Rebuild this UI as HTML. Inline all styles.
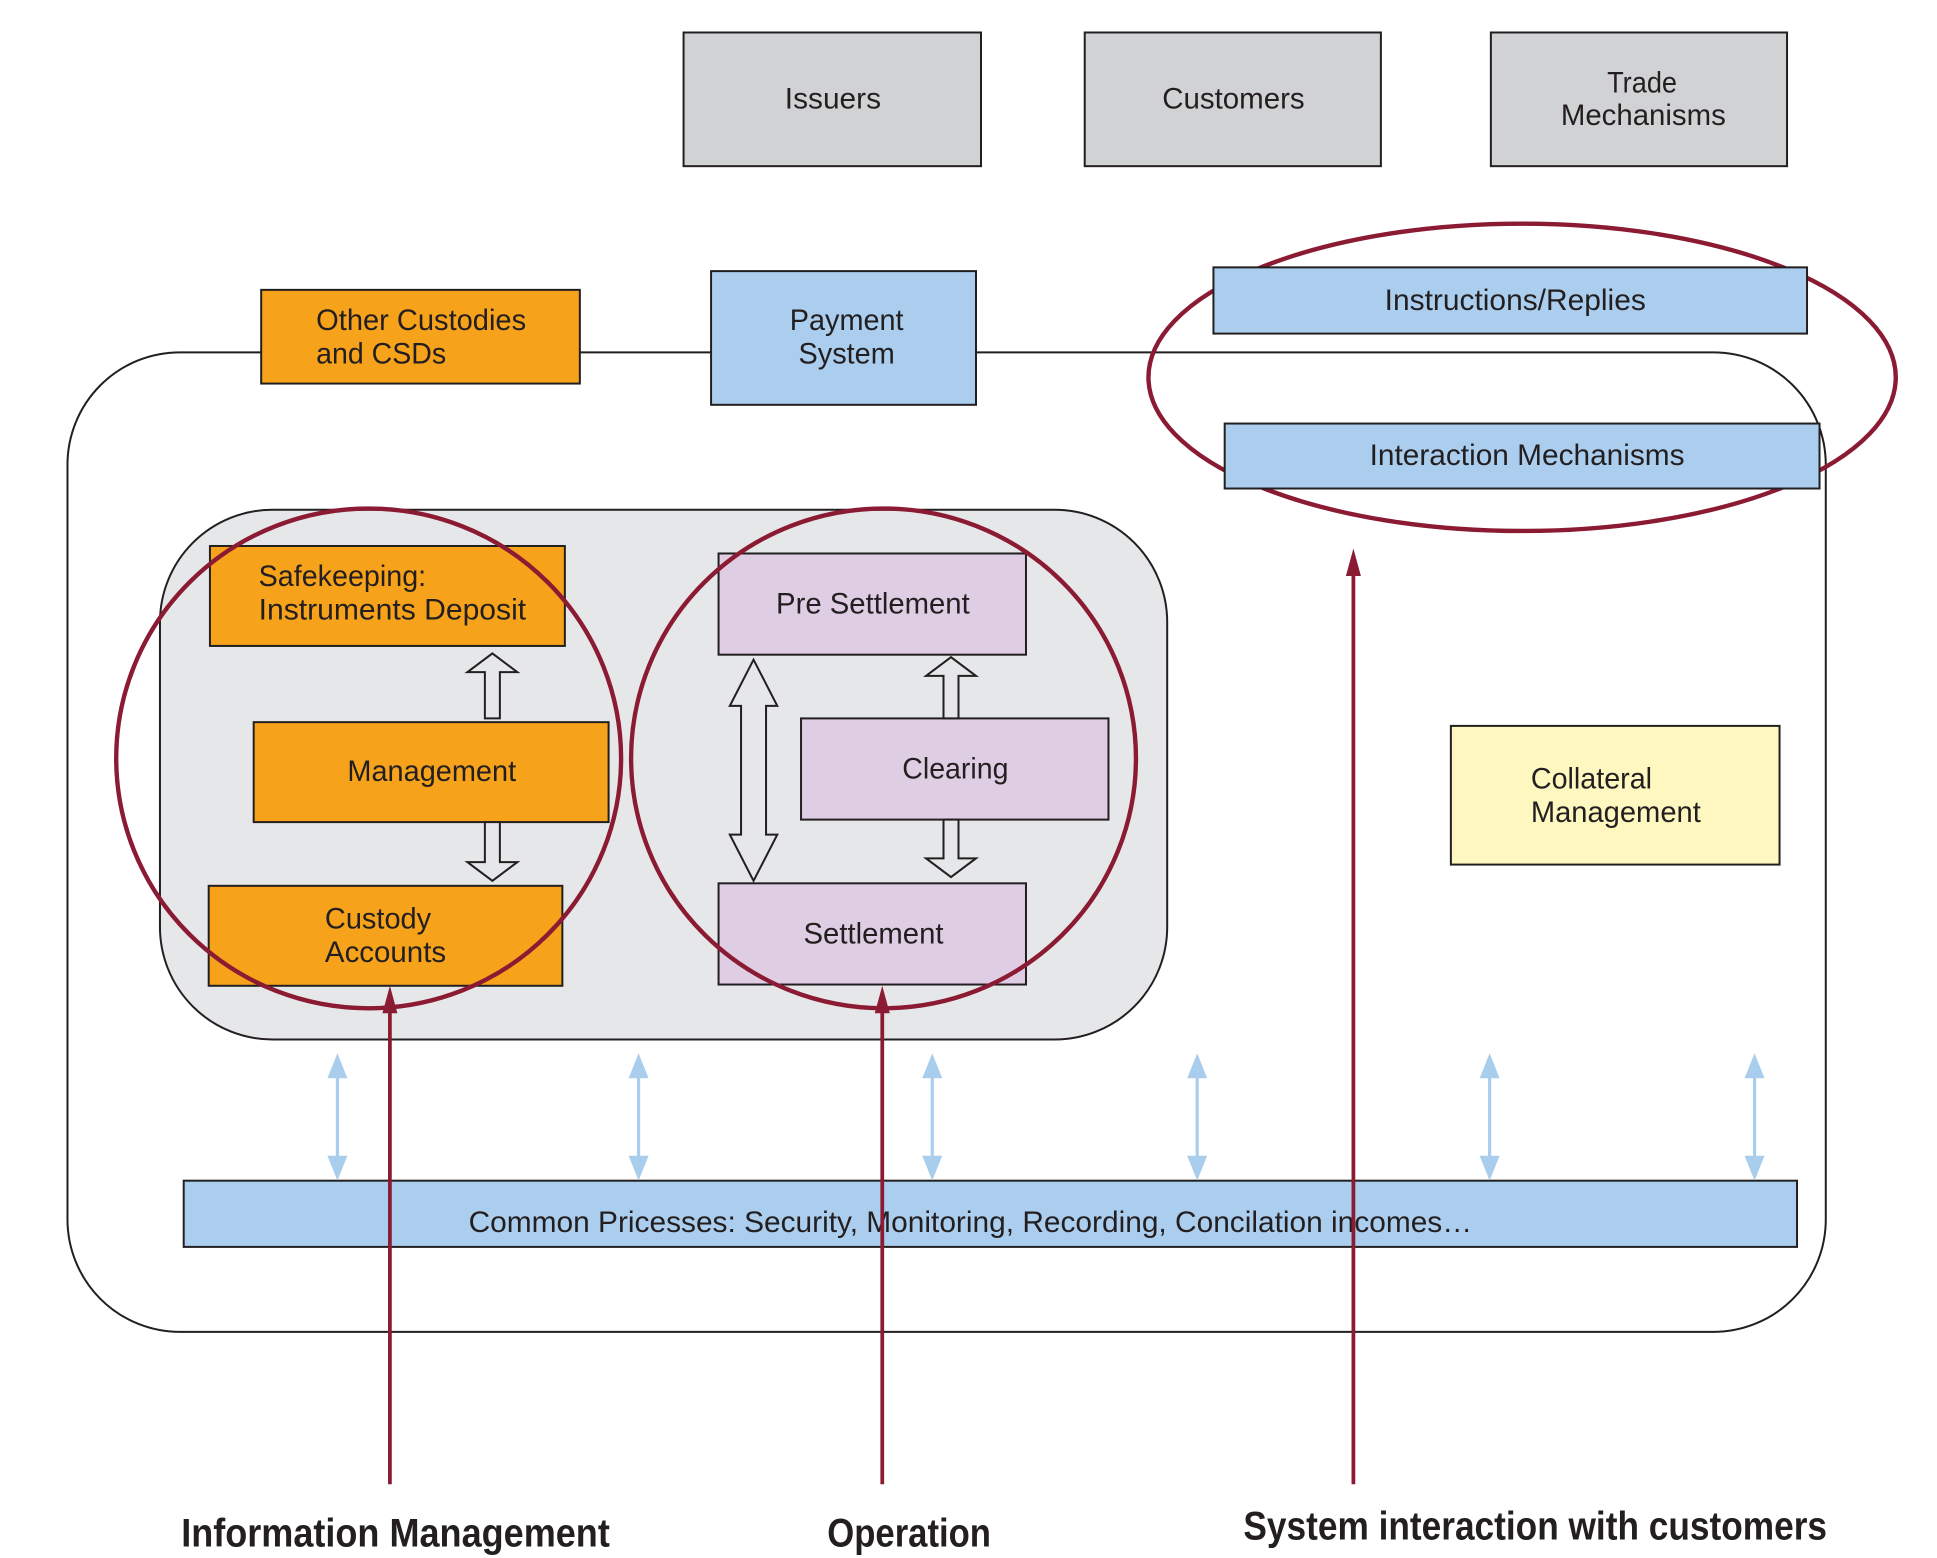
<!DOCTYPE html>
<html><head><meta charset="utf-8"><style>
html,body{margin:0;padding:0;background:#fff;}
svg{display:block;}
text{font-family:"Liberation Sans Narrow","Liberation Sans",sans-serif;fill:#231f20;}
</style></head><body>
<svg width="1937" height="1558" viewBox="0 0 1550 1247" preserveAspectRatio="none" xmlns="http://www.w3.org/2000/svg">
<g stroke="#231f20" stroke-width="1.6">
<rect x="54" y="282" width="1407" height="784" rx="90" ry="90" fill="none"/>
<rect x="128" y="408" width="806" height="424" rx="90" ry="90" fill="#e6e7e9"/>
<rect x="547" y="26" width="238" height="107" fill="#d1d2d4"/>
<rect x="868" y="26" width="237" height="107" fill="#d1d2d4"/>
<rect x="1193" y="26" width="237" height="107" fill="#d1d2d4"/>
<rect x="209" y="232" width="255" height="75" fill="#f7a21b"/>
<rect x="569" y="217" width="212" height="107" fill="#abcdee"/>
</g>
<ellipse cx="1218" cy="302" rx="299" ry="123" fill="none" stroke="#8b1a33" stroke-width="3.5"/>
<g stroke="#231f20" stroke-width="1.6">
<rect x="971" y="214" width="475" height="53" fill="#abcdee"/>
<rect x="980" y="339" width="476" height="52" fill="#abcdee"/>
<rect x="168" y="437" width="284" height="80" fill="#f7a21b"/>
<rect x="203" y="578" width="284" height="80" fill="#f7a21b"/>
<rect x="167" y="709" width="283" height="80" fill="#f7a21b"/>
<rect x="575" y="443" width="246" height="81" fill="#dfcde4"/>
<rect x="641" y="575" width="246" height="81" fill="#dfcde4"/>
<rect x="575" y="707" width="246" height="81" fill="#dfcde4"/>
<rect x="1161" y="581" width="263" height="111" fill="#fef7bf"/>
<rect x="147" y="945" width="1291" height="53" fill="#abcdee"/>
<path d="M388,575 L388,538 L374,538 L394,523 L414,538 L400,538 L400,575 Z" fill="#e6e7e9"/>
<path d="M388,658 L388,690 L374,690 L394,705 L414,690 L400,690 L400,658 Z" fill="#e6e7e9"/>
<path d="M755,575 L755,541 L741,541 L761,526 L781,541 L767,541 L767,575 Z" fill="#e6e7e9"/>
<path d="M755,656 L755,687 L741,687 L761,702 L781,687 L767,687 L767,656 Z" fill="#e6e7e9"/>
<path d="M603,528 L622,565 L613,565 L613,668 L622,668 L603,705 L584,668 L593,668 L593,565 L584,565 Z" fill="#e6e7e9"/>
</g>
<ellipse cx="295" cy="607" rx="202" ry="200" fill="none" stroke="#8b1a33" stroke-width="3.5"/>
<ellipse cx="707" cy="607" rx="202" ry="200" fill="none" stroke="#8b1a33" stroke-width="3.5"/>
<g stroke="#a9cdec" stroke-width="2.5">
<line x1="270" y1="855" x2="270" y2="933"/><line x1="511" y1="855" x2="511" y2="933"/>
<line x1="746" y1="855" x2="746" y2="933"/><line x1="958" y1="855" x2="958" y2="933"/>
<line x1="1192" y1="855" x2="1192" y2="933"/><line x1="1404" y1="855" x2="1404" y2="933"/>
</g>
<g fill="#a9cdec">
<path d="M270,843 l-8,20 h16z M270,945 l-8,-20 h16z"/>
<path d="M511,843 l-8,20 h16z M511,945 l-8,-20 h16z"/>
<path d="M746,843 l-8,20 h16z M746,945 l-8,-20 h16z"/>
<path d="M958,843 l-8,20 h16z M958,945 l-8,-20 h16z"/>
<path d="M1192,843 l-8,20 h16z M1192,945 l-8,-20 h16z"/>
<path d="M1404,843 l-8,20 h16z M1404,945 l-8,-20 h16z"/>
</g>
<g font-size="24" lengthAdjust="spacingAndGlyphs">
<text x="628" y="87" textLength="77" lengthAdjust="spacingAndGlyphs">Issuers</text>
<text x="930" y="87" textLength="114" lengthAdjust="spacingAndGlyphs">Customers</text>
<text x="1286" y="74" textLength="56" lengthAdjust="spacingAndGlyphs">Trade</text>
<text x="1249" y="100" textLength="132" lengthAdjust="spacingAndGlyphs">Mechanisms</text>
<text x="253" y="264" textLength="168" lengthAdjust="spacingAndGlyphs">Other Custodies</text>
<text x="253" y="291" textLength="104" lengthAdjust="spacingAndGlyphs">and CSDs</text>
<text x="632" y="264" textLength="91" lengthAdjust="spacingAndGlyphs">Payment</text>
<text x="639" y="291" textLength="77" lengthAdjust="spacingAndGlyphs">System</text>
<text x="1108" y="248" textLength="209" lengthAdjust="spacingAndGlyphs">Instructions/Replies</text>
<text x="1096" y="372" textLength="252" lengthAdjust="spacingAndGlyphs">Interaction Mechanisms</text>
<text x="207" y="469" textLength="134" lengthAdjust="spacingAndGlyphs">Safekeeping:</text>
<text x="207" y="496" textLength="214" lengthAdjust="spacingAndGlyphs">Instruments Deposit</text>
<text x="278" y="625" textLength="135" lengthAdjust="spacingAndGlyphs">Management</text>
<text x="260" y="743" textLength="85" lengthAdjust="spacingAndGlyphs">Custody</text>
<text x="260" y="770" textLength="97" lengthAdjust="spacingAndGlyphs">Accounts</text>
<text x="621" y="491" textLength="155" lengthAdjust="spacingAndGlyphs">Pre Settlement</text>
<text x="722" y="623" textLength="85" lengthAdjust="spacingAndGlyphs">Clearing</text>
<text x="643" y="755" textLength="112" lengthAdjust="spacingAndGlyphs">Settlement</text>
<text x="1225" y="631" textLength="97" lengthAdjust="spacingAndGlyphs">Collateral</text>
<text x="1225" y="658" textLength="136" lengthAdjust="spacingAndGlyphs">Management</text>
<text x="375" y="986" textLength="803" lengthAdjust="spacingAndGlyphs">Common Pricesses: Security, Monitoring, Recording, Concilation incomes…</text>
</g>
<g stroke="#8b1a33" stroke-width="3">
<line x1="312" y1="1188" x2="312" y2="805"/>
<line x1="706" y1="1188" x2="706" y2="805"/>
<line x1="1083" y1="1188" x2="1083" y2="455"/>
</g>
<g fill="#8b1a33">
<path d="M312,789 l-6,22 h12z"/>
<path d="M706,789 l-6,22 h12z"/>
<path d="M1083,439 l-6,22 h12z"/>
</g>
<g font-size="32" font-weight="bold">
<text x="145" y="1238" textLength="343" lengthAdjust="spacingAndGlyphs">Information Management</text>
<text x="662" y="1238" textLength="131" lengthAdjust="spacingAndGlyphs">Operation</text>
<text x="995" y="1232" textLength="467" lengthAdjust="spacingAndGlyphs">System interaction with customers</text>
</g>
</svg>
</body></html>
